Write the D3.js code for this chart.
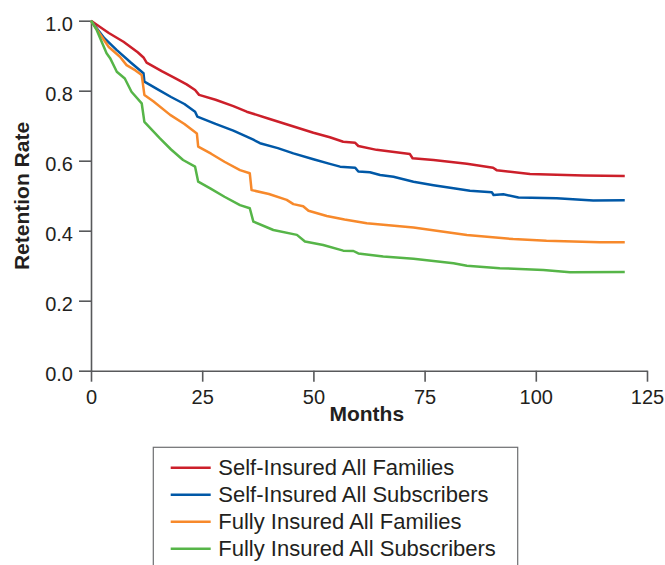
<!DOCTYPE html>
<html>
<head>
<meta charset="utf-8">
<script src="https://cdn.jsdelivr.net/npm/d3@7"></script>
<style>
  body { margin: 0; background: #fff; }
  svg text { font-family: "Liberation Sans", Arial, Helvetica, sans-serif; fill: #231f20; }
</style>
</head>
<body>
<div id="chart"></div>
<script>
// [month, retention rate]
var selfFamilies = [[0,1.0],[4,0.965],[7.3,0.94],[10.5,0.91],[11.8,0.895],[12.5,0.88],[16,0.855],[19,0.835],[21.5,0.818],[23.4,0.802],[24.3,0.788],[28,0.774],[32,0.756],[35,0.740],[40,0.72],[45,0.70],[50,0.68],[53.7,0.667],[56.7,0.654],[59.4,0.651],[60.1,0.642],[64.2,0.631],[71.7,0.619],[72.3,0.607],[77,0.602],[84.5,0.591],[90.4,0.580],[91.2,0.573],[98.7,0.562],[110.7,0.558],[120,0.556]];
var selfSubscribers = [[0,1.0],[3,0.95],[5.8,0.916],[9,0.88],[11.8,0.85],[12,0.826],[15,0.804],[18,0.782],[21,0.762],[23.4,0.74],[23.9,0.726],[28,0.705],[32,0.686],[35,0.669],[36.5,0.66],[38,0.65],[42,0.636],[45.5,0.621],[50,0.604],[53.7,0.591],[56,0.583],[59.4,0.580],[60.1,0.569],[62.7,0.567],[65,0.559],[68,0.554],[72.5,0.540],[77,0.53],[81.5,0.521],[85.2,0.514],[90.1,0.510],[90.5,0.502],[92.7,0.504],[96.1,0.495],[104.7,0.493],[112.9,0.486],[120,0.487]];
var fullyFamilies = [[0,1.0],[2,0.962],[4,0.925],[6.5,0.897],[8,0.873],[10,0.858],[11.4,0.845],[12,0.788],[14,0.77],[17.8,0.731],[21,0.705],[23.8,0.678],[24.1,0.64],[27,0.62],[30,0.597],[33.5,0.573],[35.7,0.564],[36.1,0.516],[40,0.505],[44,0.488],[45.5,0.476],[47.7,0.470],[48.9,0.457],[53,0.442],[57,0.432],[62,0.421],[72.5,0.409],[84.5,0.388],[94.9,0.376],[102.4,0.371],[114.4,0.367],[120,0.367]];
var fullySubscribers = [[0,1.0],[1.3,0.973],[3.5,0.907],[4.3,0.893],[5.8,0.854],[7.6,0.835],[9.1,0.797],[11.4,0.764],[12,0.711],[15.5,0.664],[18,0.632],[20.7,0.602],[23.4,0.583],[24.1,0.540],[26.8,0.521],[30,0.497],[33.5,0.473],[35.7,0.464],[36.5,0.426],[41,0.402],[46.3,0.388],[48.1,0.369],[52.2,0.359],[56.7,0.343],[59,0.342],[60.1,0.335],[65.7,0.326],[72.5,0.320],[81.5,0.307],[84.5,0.300],[91.9,0.293],[101.7,0.288],[107.7,0.281],[120,0.282]];

var seriesNames = ["Self-Insured All Families", "Self-Insured All Subscribers", "Fully Insured All Families", "Fully Insured All Subscribers"];
var seriesData = [selfFamilies, selfSubscribers, fullyFamilies, fullySubscribers];
var colors = ["#cc1f2a", "#0058a7", "#f7892b", "#56b548"];
var xTicks = [0, 25, 50, 75, 100, 125];
var yTicks = [0, 0.2, 0.4, 0.6, 0.8, 1.0];

var w = 665;
var h = 565;
var margin = {left: 91, top: 20.7};
var plotW = 556;
var plotH = 350;

var svg = d3.select("#chart").append("svg").attr("width", w).attr("height", h);
var g = svg.append("g").attr("transform", "translate(" + margin.left + "," + margin.top + ")");

var x = d3.scaleLinear().domain([0, 125]).range([0, plotW]);
var y = d3.scaleLinear().domain([0, 1]).range([plotH, 0]);

var xAxis = g.append("g").attr("transform", "translate(0," + plotH + ")")
	.call(d3.axisBottom(x).tickValues(xTicks).tickSize(11).tickSizeOuter(0).tickPadding(8));
var yAxis = g.append("g")
	.call(d3.axisLeft(y).tickValues(yTicks).tickFormat(d3.format(".1f")).tickSize(12).tickSizeOuter(0).tickPadding(6));

[xAxis, yAxis].forEach(function(a) {
	a.selectAll("path, line").attr("stroke", "#58595b").attr("stroke-width", 1.6);
	a.selectAll("text").style("font-size", "20px").attr("fill", "#231f20");
});
yAxis.selectAll("text").attr("dy", "0.47em");

// lines
var line = d3.line().x(function(d) { return x(d[0]); }).y(function(d) { return y(d[1]); });
g.selectAll(".series").data(seriesData).enter().append("path")
	.attr("class", "series")
	.attr("d", line)
	.attr("fill", "none")
	.attr("stroke", function(d, i) { return colors[i]; })
	.attr("stroke-width", 2.5)
	.attr("stroke-linejoin", "round");

// axis titles
svg.append("text").attr("x", margin.left + x(62)).attr("y", 421)
	.attr("text-anchor", "middle").style("font-size", "21px").style("font-weight", "bold").text("Months");
svg.append("text").attr("transform", "translate(29.3,196) rotate(-90)")
	.attr("text-anchor", "middle").style("font-size", "21px").style("font-weight", "bold").text("Retention Rate");

// legend
var legend = svg.append("g").attr("transform", "translate(153.3,447.3)");
legend.append("rect").attr("width", 364.4).attr("height", 140)
	.attr("fill", "#fff").attr("stroke", "#6d6e71").attr("stroke-width", 1.2);
var items = legend.selectAll(".item").data(seriesNames).enter().append("g")
	.attr("class", "item")
	.attr("transform", function(d, i) { return "translate(0," + (20.4 + i * 27) + ")"; });
items.append("line").attr("x1", 17.4).attr("x2", 57.4)
	.attr("stroke", function(d, i) { return colors[i]; }).attr("stroke-width", 2.6);
items.append("text").attr("x", 65).attr("y", 7).style("font-size", "22px").text(function(d) { return d; });
</script>
</body>
</html>
